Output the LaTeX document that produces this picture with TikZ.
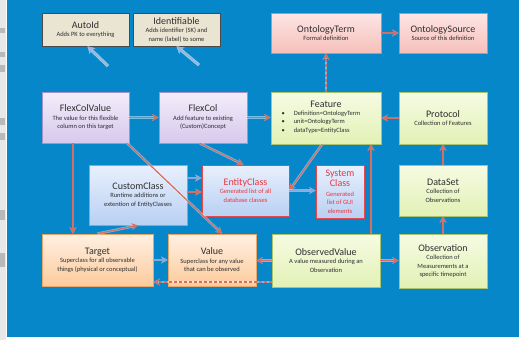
\documentclass[tikz,border=0pt]{standalone}
\usepackage{fontspec}
\setmainfont{Carlito}
\usetikzlibrary{arrows.meta,shadows,calc}

\definecolor{bgblue}{RGB}{5,135,202}
\definecolor{stripgray}{RGB}{232,232,232}
\definecolor{txt}{RGB}{46,46,46}
\definecolor{redtxt}{RGB}{238,52,60}
\definecolor{conred}{RGB}{213,111,102}
\definecolor{conblue}{RGB}{134,169,218}
\definecolor{beigefill}{RGB}{233,229,210}
\definecolor{beigeline}{RGB}{74,74,74}
\definecolor{pinktop}{RGB}{253,230,228}
\definecolor{pinkbot}{RGB}{246,191,187}
\definecolor{pinkline}{RGB}{213,137,131}
\definecolor{lavtop}{RGB}{243,237,250}
\definecolor{lavbot}{RGB}{215,201,236}
\definecolor{lavline}{RGB}{164,147,198}
\definecolor{grntop}{RGB}{246,251,227}
\definecolor{grnbot}{RGB}{226,241,181}
\definecolor{grnline}{RGB}{169,196,107}
\definecolor{blutop}{RGB}{232,240,253}
\definecolor{blubot}{RGB}{185,208,243}
\definecolor{bluline}{RGB}{134,166,214}
\definecolor{entline}{RGB}{232,72,74}
\definecolor{pchtop}{RGB}{255,240,226}
\definecolor{pchbot}{RGB}{252,203,156}
\definecolor{pchline}{RGB}{230,168,104}

\newcommand\boxtitle[1]{{\fontsize{10}{10}\selectfont #1}}

\tikzset{
  box/.style={rectangle, line width=0.7pt, inner sep=1pt, align=center,
    font=\fontsize{6.5}{8.5}\selectfont, text=txt,
    drop shadow={opacity=0.3, shadow xshift=0.8pt, shadow yshift=-1.2pt}},
  beigebox/.style={box, fill=beigefill, draw=beigeline},
  pinkbox/.style={box, top color=pinktop, bottom color=pinkbot, draw=pinkline},
  lavbox/.style={box, top color=lavtop, bottom color=lavbot, draw=lavline},
  grnbox/.style={box, top color=grntop, bottom color=grnbot, draw=grnline},
  blubox/.style={box, top color=blutop, bottom color=blubot, draw=bluline},
  entbox/.style={box, top color=blutop, bottom color=blubot, draw=entline, text=redtxt},
  pchbox/.style={box, top color=pchtop, bottom color=pchbot, draw=pchline},
  conn/.style={draw=conred, line width=1.3pt,
    -{Stealth[length=6.5pt,width=7pt]},
    preaction={draw=white, draw opacity=0.45, line width=2.6pt}},
  bconn/.style={draw=conblue, line width=1.3pt,
    -{Stealth[length=6.5pt,width=7pt]},
    preaction={draw=white, draw opacity=0.45, line width=2.6pt}},
  hintarrow/.style={draw=conblue!85!white, line width=1.8pt,
    -{Stealth[length=7pt,width=8pt]},
    preaction={draw=white, draw opacity=0.6, line width=3.2pt}},
  dashconn/.style={conn, dash pattern=on 3pt off 2pt},
}

\begin{document}
\begin{tikzpicture}[x=1pt,y=-1pt]
  % canvas: white page, grey side strip, blue slide area
  \fill[white] (0,0) rectangle (519,340);
  \fill[stripgray] (0,0) rectangle (6,340);
  \fill[bgblue] (7,0) rectangle (519,337);
  \foreach \ya/\yb in {28/33, 52/57, 65/72, 118/125, 133/140, 210/220, 253/267}
    \fill[gray!55] (0,\ya) rectangle (5,\yb);

  % top row
  \node[beigebox, minimum width=87pt, minimum height=33pt] (autoid) at (85.5,29.5)
    {\boxtitle{AutoId}\\Adds PK to everything};
  \node[beigebox, minimum width=87pt, minimum height=33pt] (ident) at (176.5,29.5)
    {\boxtitle{Identifiable}\\Adds identifier (SK) and\\name (label) to some};
  \node[pinkbox, minimum width=110pt, minimum height=40pt] (oterm) at (326,33)
    {\boxtitle{OntologyTerm}\\Formal definition};
  \node[pinkbox, minimum width=88pt, minimum height=40pt] (osrc) at (443,33)
    {\boxtitle{OntologySource}\\Source of this definition};

  % second row
  \node[lavbox, minimum width=87pt, minimum height=51pt] (fcv) at (85.5,117.5)
    {\boxtitle{FlexColValue}\\The value for this flexible\\column on this target};
  \node[lavbox, minimum width=88pt, minimum height=51pt] (fcol) at (203,117.5)
    {\boxtitle{FlexCol}\\Add feature to existing\\(Custom)Concept};
  \node[grnbox, minimum width=110pt, minimum height=52pt] (feat) at (326,118)
    {\boxtitle{Feature}\\[1pt]
     \begin{tabular}{@{}l@{\hspace{9pt}}l@{}}
       \textbullet & Definition=OntologyTerm\\
       \textbullet & unit=OntologyTerm\\
       \textbullet & dataType=EntityClass
     \end{tabular}\hspace*{10pt}};
  \node[grnbox, minimum width=88pt, minimum height=52pt] (proto) at (443,118)
    {\boxtitle{Protocol}\\Collection of Features};

  % third row
  \node[blubox, minimum width=98pt, minimum height=60pt] (cclass) at (138,195)
    {\boxtitle{CustomClass}\\Runtime additions or\\extention of EntityClasses};
  \node[entbox, minimum width=87pt, minimum height=51pt] (eclass) at (245.5,190.5)
    {\boxtitle{EntityClass}\\Generated list of all\\database classes};
  \node[entbox, minimum width=48pt, minimum height=53pt] (sclass) at (340,191.5)
    {\boxtitle{System}\\[1pt]\boxtitle{Class}\\[1pt]Generated\\list of GUI\\elements};
  \node[grnbox, minimum width=88pt, minimum height=51pt] (dset) at (443,190.5)
    {\boxtitle{DataSet}\\Collection of\\Observations};

  % bottom row
  \node[pchbox, minimum width=111pt, minimum height=52pt] (target) at (97.5,260)
    {\boxtitle{Target}\\Superclass for all observable\\things (physical or conceptual)};
  \node[pchbox, minimum width=88pt, minimum height=52pt] (value) at (212,260)
    {\boxtitle{Value}\\Superclass for any value\\that can be observed};
  \node[grnbox, minimum width=108pt, minimum height=53pt] (ovalue) at (326,260.5)
    {\boxtitle{ObservedValue}\\A value measured during an\\Observation};
  \node[grnbox, minimum width=88pt, minimum height=54pt] (obs) at (443,261)
    {\boxtitle{Observation}\\Collection of\\Measurements at a\\specific timepoint};

  % pointers to the mixin boxes
  \coordinate (hintA) at (108,66);
  \coordinate (hintB) at (199,65);
  \draw[hintarrow] (hintA) -- ([xshift=2pt]autoid.south);
  \draw[hintarrow] (hintB) -- (ident.south);

  % attachment points off the anchor grid
  \coordinate (ccUp) at ([yshift=17pt]cclass.east);
  \coordinate (ccLow) at ([yshift=3pt]cclass.east);
  \coordinate (ovLow) at ([yshift=-21.5pt]ovalue.west);

  % relations
  \draw[conn] (oterm.east) -- (osrc.west);
  \draw[dashconn] (feat.north) -- (oterm.south);
  \draw[conn] (fcv.east) -- (fcol.west);
  \draw[conn] (fcol.east) -- (feat.west |- fcol.east);
  \draw[conn] (proto.west) -- (feat.east);
  \draw[conn] ([xshift=-12.5pt]fcv.south) -- ([xshift=-12.5pt]fcv.south |- target.north);
  \draw[conn] ([xshift=-2pt]fcv.south east) -- ([xshift=10pt]value.north);
  \draw[conn] ([xshift=-3pt]fcol.south) -- ([xshift=-2pt]eclass.north);
  \draw[conn] ([xshift=-4pt]feat.south) -- (eclass.east);
  \draw[bconn] (ccUp) -- (eclass.west |- ccUp);
  \draw[conn] (ccLow) -- (eclass.west |- ccLow);
  \draw[bconn] (eclass.east) -- (sclass.west |- eclass.east);
  \draw[conn] ([xshift=45pt]ovalue.north) -- ([xshift=45pt]ovalue.north |- feat.south);
  \draw[conn] (dset.north) -- (proto.south);
  \draw[conn] (obs.north) -- (dset.south);
  \draw[conn] (ovalue.east) -- (obs.west |- ovalue.east);
  \draw[conn] (ovalue.west) -- (value.east |- ovalue.west);
  \draw[bconn] (target.east) -- (value.west);
  \draw[conn] (target.north) -- (cclass.south);
  \draw[dashconn] (ovLow) -- (target.east |- ovLow);
\end{tikzpicture}
\end{document}
